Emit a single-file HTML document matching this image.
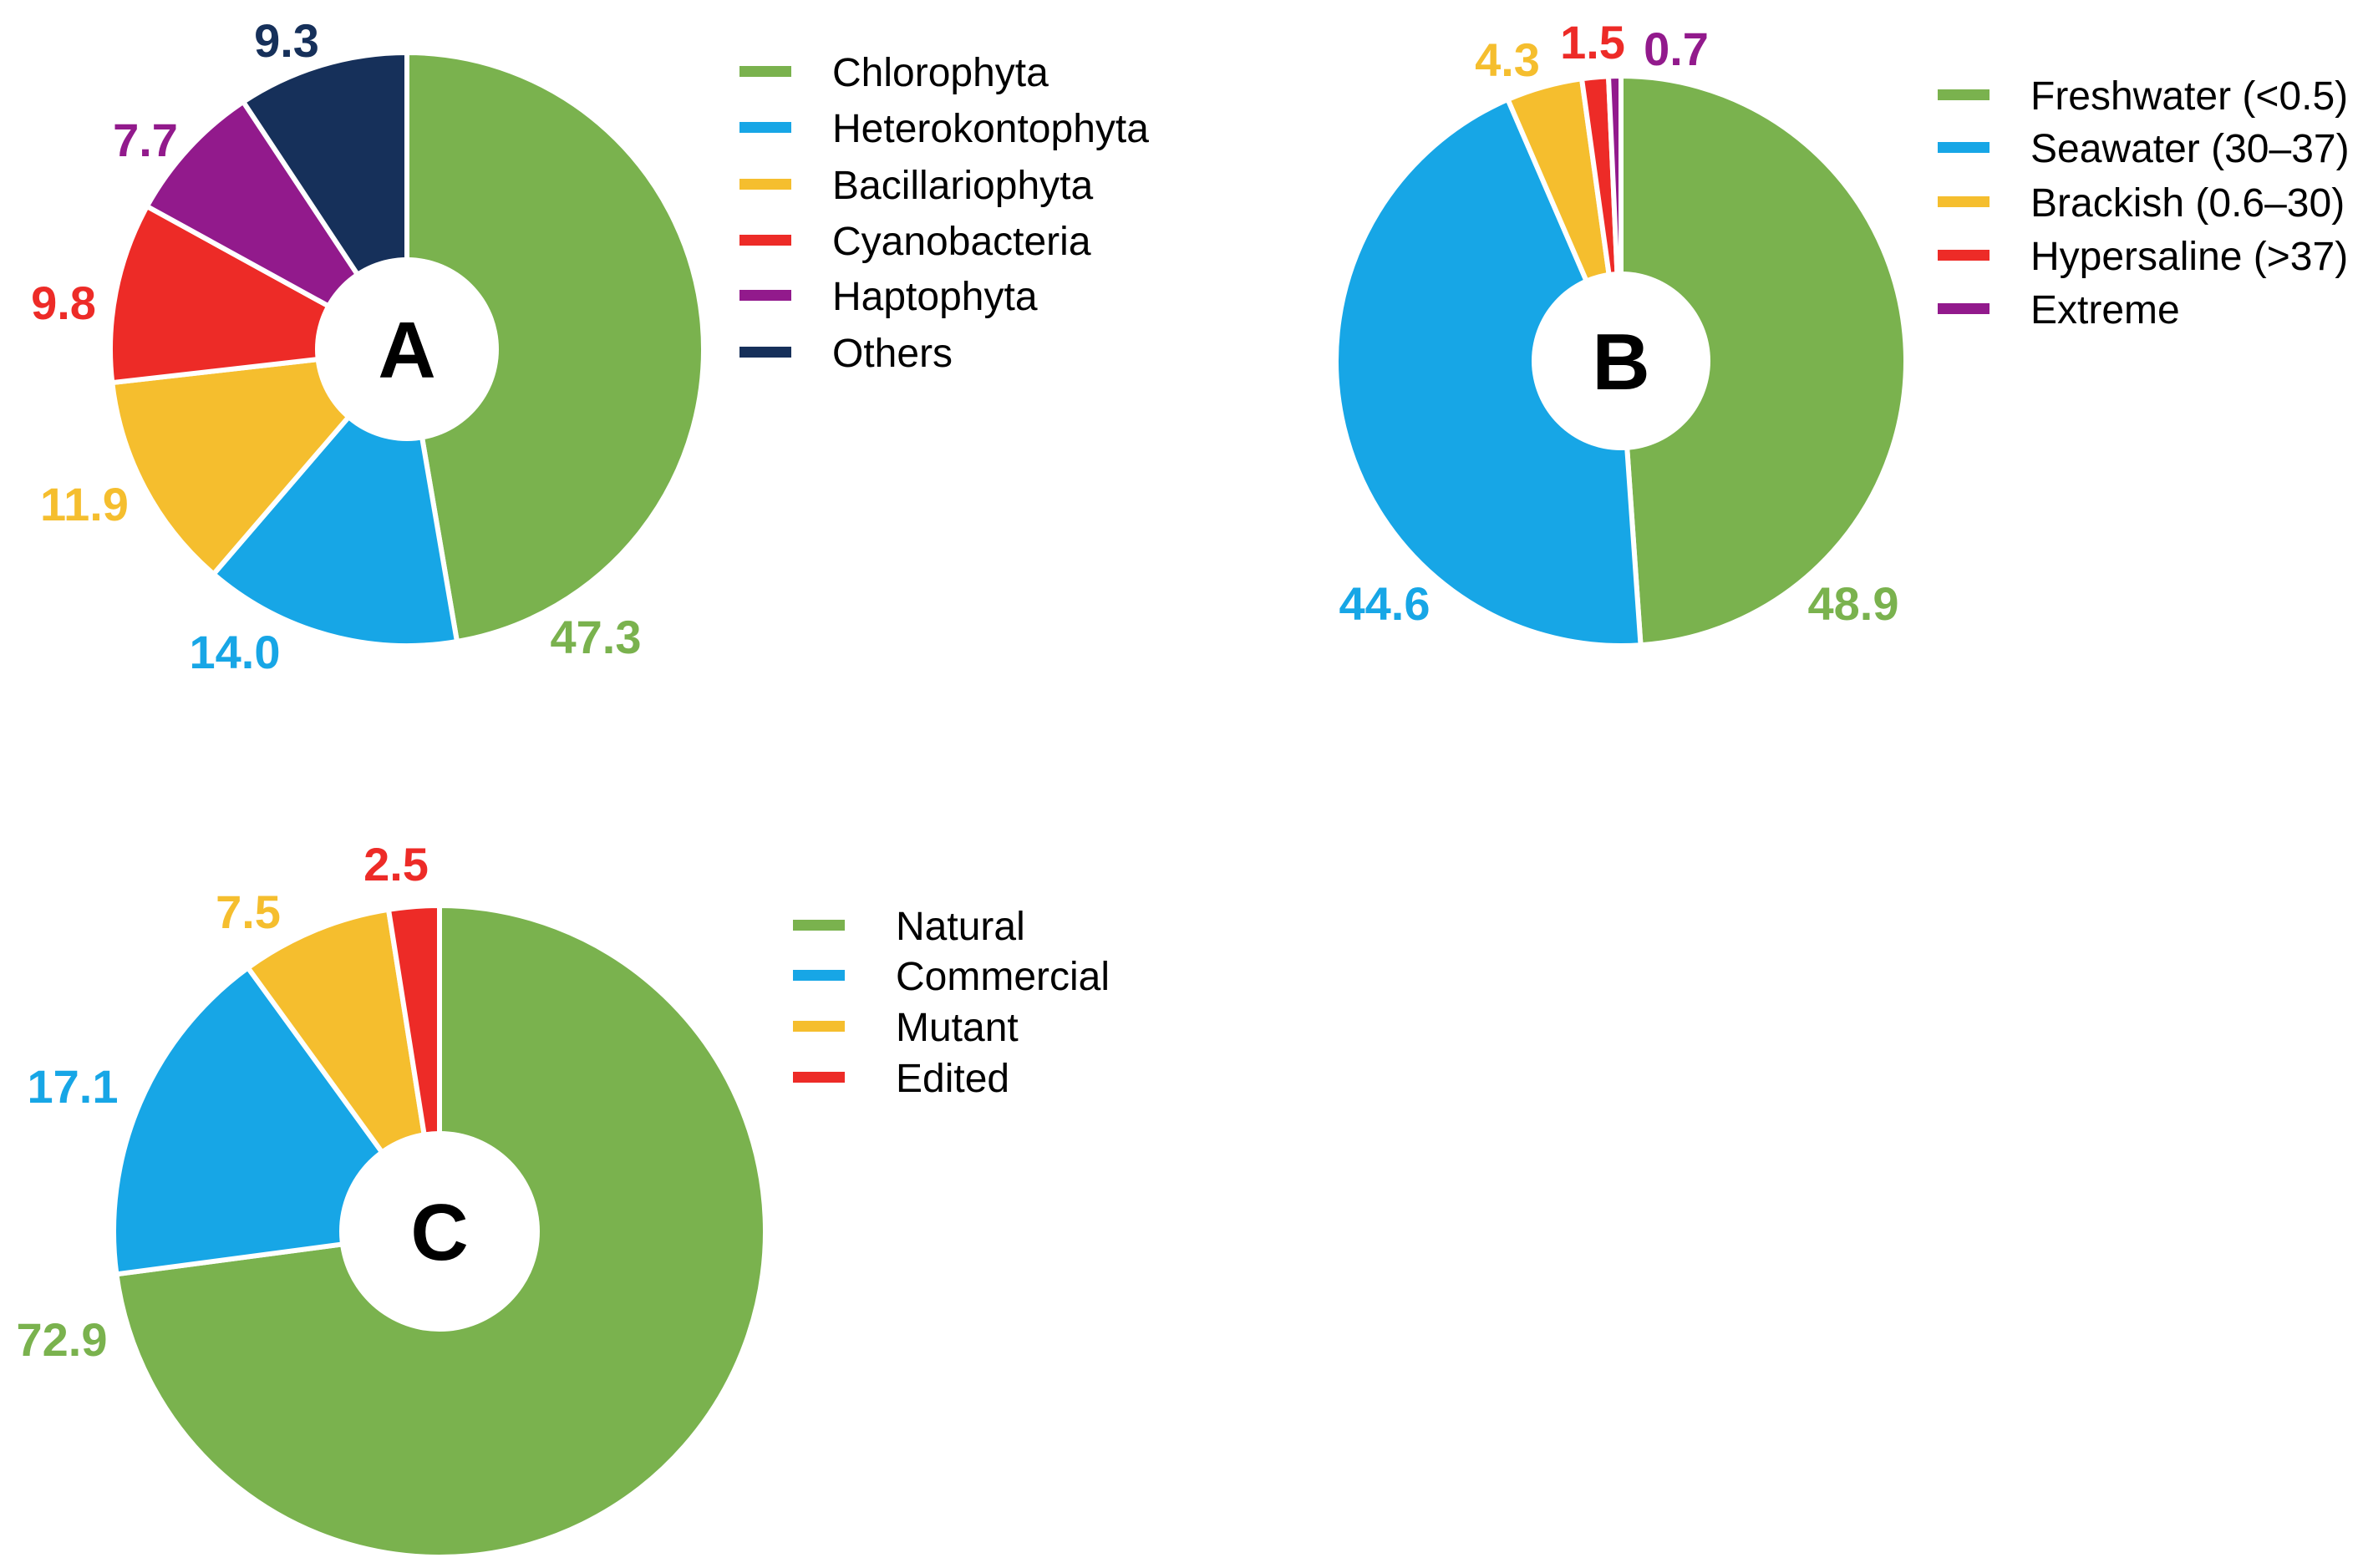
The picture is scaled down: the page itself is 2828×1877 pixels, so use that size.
<!DOCTYPE html>
<html><head><meta charset="utf-8"><style>
html,body{margin:0;padding:0;background:#fff;}
svg{display:block;font-family:"Liberation Sans",Arial,sans-serif;}
</style></head><body>
<svg id="chart" width="2828" height="1877" viewBox="0 0 2828 1877"></svg>
<script>
const catsA = ["Chlorophyta","Heterokontophyta","Bacillariophyta","Cyanobacteria","Haptophyta","Others"];
const valsA = [47.3,14.0,11.9,9.8,7.7,9.3];
const catsB = ["Freshwater (<0.5)","Seawater (30\u201337)","Brackish (0.6\u201330)","Hypersaline (>37)","Extreme"];
const valsB = [48.9,44.6,4.3,1.5,0.7];
const catsC = ["Natural","Commercial","Mutant","Edited"];
const valsC = [72.9,17.1,7.5,2.5];
const colors = ["#7ab24e","#17a6e6","#f5be2e","#ed2b27","#921a8c","#16305a"];

const NS="http://www.w3.org/2000/svg";
const svg=document.getElementById('chart');
function mk(tag,attrs,parent){const e=document.createElementNS(NS,tag);for(const k in attrs)e.setAttribute(k,attrs[k]);(parent||svg).appendChild(e);return e;}

const panels=[
 {id:'a',letter:'A',cats:catsA,vals:valsA,cx:487,cy:418,r:355,ri:110,
  labels:[[713,762],[281,780],[101,603],[76,362],[174,167],[343,48]],
  lx:885,tx:996,ly:[86,153,221,288,354,422]},
 {id:'b',letter:'B',cats:catsB,vals:valsB,cx:1940,cy:432,r:341,ri:107,
  labels:[[2218,722],[1657,722],[1804,71],[1906,50],[2006,58]],
  lx:2319,tx:2430,ly:[114,177,242,306,370]},
 {id:'c',letter:'C',cats:catsC,vals:valsC,cx:526,cy:1474,r:390,ri:120,
  labels:[[74,1603],[87,1300],[297,1091],[474,1034]],
  lx:949,tx:1072,ly:[1108,1168,1229,1290]}
];

panels.forEach(p=>{
  const g=mk('g',{});
  
  
  const total=p.vals.reduce((a,b)=>a+b,0);
  let ang=0;
  p.vals.forEach((v,i)=>{
    const a0=ang/total*2*Math.PI, a1=(ang+v)/total*2*Math.PI; ang+=v;
    const x0=p.cx+p.r*Math.sin(a0), y0=p.cy-p.r*Math.cos(a0);
    const x1=p.cx+p.r*Math.sin(a1), y1=p.cy-p.r*Math.cos(a1);
    const large=(a1-a0)>Math.PI?1:0;
    const path=mk('path',{d:`M${p.cx},${p.cy} L${x0},${y0} A${p.r},${p.r} 0 ${large} 1 ${x1},${y1} Z`,fill:colors[i],stroke:'#fff','stroke-width':6,'stroke-linejoin':'miter'},g);
    
    
    const lab=mk('text',{x:p.labels[i][0],y:p.labels[i][1]+20,'text-anchor':'middle','font-size':56,'font-weight':'bold',fill:colors[i]},g);
    lab.textContent=v.toFixed(1);
    
    
    const sw=mk('rect',{x:p.lx,y:p.ly[i]-7,width:62,height:13,fill:colors[i]},g);
    
    
    const lt=mk('text',{x:p.tx,y:p.ly[i]+17,'font-size':48,fill:'#000'},g);
    lt.textContent=p.cats[i];
    
    
  });
  const hole=mk('circle',{cx:p.cx,cy:p.cy,r:p.ri,fill:'#fff'},g);
  
  
  const t=mk('text',{x:p.cx,y:p.cy+34,'text-anchor':'middle','font-size':96,'font-weight':'bold',fill:'#000'},g);
  t.textContent=p.letter;
  
  
});
</script>
</body></html>
